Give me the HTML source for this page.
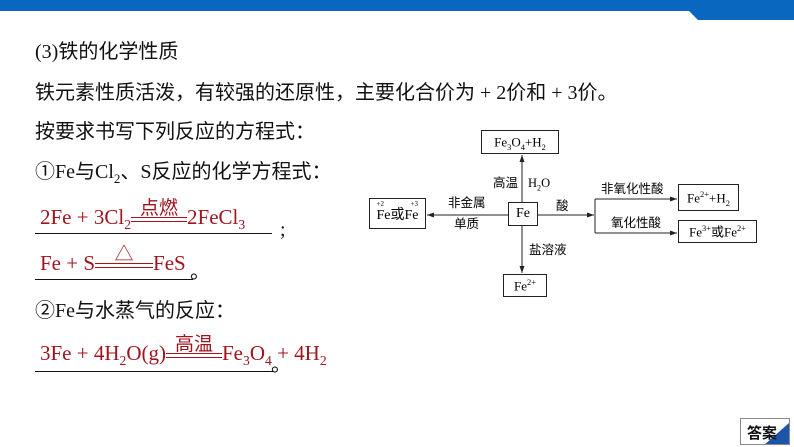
<!DOCTYPE html>
<html><head><meta charset="utf-8"><style>
body{margin:0;width:794px;height:447px;background:#fff;position:relative;overflow:hidden;font-family:"Liberation Serif","Noto Sans CJK SC",serif}
.t{position:absolute;white-space:nowrap;font-size:20px;color:#111;font-family:"Liberation Serif","Noto Sans CJK SC",sans-serif;line-height:1}
.r{color:#a0141e}
.u{position:absolute;height:1px;background:#111}
.b{position:absolute;border:1px solid #222;box-sizing:border-box;font-size:13px;text-align:center;white-space:nowrap;font-family:"Liberation Serif","Noto Sans CJK SC",serif;line-height:1}
.b > span{position:absolute;left:0;right:0;top:50%;transform:translateY(-50%)}
.l{position:absolute;font-size:12.5px;white-space:nowrap;font-family:"Liberation Serif","Noto Sans CJK SC",sans-serif;line-height:1}
sub,sup{font-size:65%;line-height:0}
.eq{display:inline-block;position:relative;border-top:1px solid #a0141e;border-bottom:1px solid #a0141e;height:3px;vertical-align:middle}
.eq span{position:absolute;left:0;right:0;text-align:center;bottom:5px;font-family:"Noto Sans CJK SC",sans-serif;font-size:19px}
</style></head><body>
<div style="position:absolute;left:0;top:0;width:794px;height:11px;background:#0a67c0"></div>
<svg style="position:absolute;left:0;top:0" width="794" height="24"><polygon points="688,10 698,20 794,20 794,10" fill="#0a67c0"/></svg>

<div class="t" style="left:35px;top:42px">(3)铁的化学性质</div>
<div class="t" style="left:35px;top:83px">铁元素性质活泼，有较强的还原性，主要化合价为 + 2价和 + 3价。</div>
<div class="t" style="left:35px;top:122px">按要求书写下列反应的方程式：</div>
<div class="t" style="left:35px;top:162px">①Fe与Cl<sub>2</sub>、S反应的化学方程式：</div>
<div class="t r" style="left:40px;top:207px;font-size:21px">2Fe + 3Cl<sub>2</sub><span class="eq" style="width:56px"><span>点燃</span></span>2FeCl<sub>3</sub></div>
<div class="u" style="left:35px;top:233px;width:237px"></div>
<div class="t" style="left:280px;top:220px">;</div>
<div class="t r" style="left:40px;top:253px;font-size:21px">Fe + S<span class="eq" style="width:58px"><span>△</span></span>FeS</div>
<div class="u" style="left:35px;top:279px;width:158px"></div>
<div class="t" style="left:190px;top:262px">。</div>
<div class="t" style="left:35px;top:301px">②Fe与水蒸气的反应：</div>
<div class="t r" style="left:40px;top:343px;font-size:21px">3Fe + 4H<sub>2</sub>O(g)<span class="eq" style="width:56px"><span>高温</span></span>Fe<sub>3</sub>O<sub>4</sub> + 4H<sub>2</sub></div>
<div class="u" style="left:35px;top:371px;width:238px"></div>
<div class="t" style="left:271px;top:355px">。</div>

<svg style="position:absolute;left:0;top:0" width="794" height="447">
<defs><marker id="a" markerWidth="8" markerHeight="6" refX="7" refY="3" orient="auto"><polygon points="0,0.5 7,3 0,5.5" fill="#222"/></marker></defs>
<g stroke="#222" stroke-width="1" fill="none">
<line x1="522" y1="202" x2="522" y2="155" marker-end="url(#a)"/>
<line x1="522" y1="226" x2="522" y2="273" marker-end="url(#a)"/>
<line x1="508" y1="215" x2="427" y2="215" marker-end="url(#a)"/>
<line x1="538" y1="215" x2="594" y2="215" marker-end="url(#a)"/>
<line x1="595" y1="199" x2="595" y2="233"/>
<line x1="595" y1="199" x2="677" y2="199" marker-end="url(#a)"/>
<line x1="595" y1="233" x2="677" y2="233" marker-end="url(#a)"/>
</g></svg>
<div class="b" style="left:481px;top:130px;width:78px;height:24px"><span>Fe<sub>3</sub>O<sub>4</sub>+H<sub>2</sub></span></div>
<div class="b" style="left:508px;top:202px;width:30px;height:24px;font-size:14px"><span>Fe</span></div>
<div class="b" style="left:369px;top:198px;width:57px;height:31px;font-size:14px"><span style="top:60%">
<span style="position:relative">Fe<span style="position:absolute;left:0;top:-7px;font-size:7px">+2</span></span>或<span style="position:relative">Fe<span style="position:absolute;left:6px;top:-7px;font-size:7px">+3</span></span></span></div>
<div class="b" style="left:503px;top:274px;width:44px;height:23px"><span>Fe<sup>2+</sup></span></div>
<div class="b" style="left:678px;top:184px;width:61px;height:27px"><span>Fe<sup>2+</sup>+H<sub>2</sub></span></div>
<div class="b" style="left:678px;top:220px;width:79px;height:23px"><span>Fe<sup>3+</sup>或Fe<sup>2+</sup></span></div>
<div class="l" style="left:493px;top:177px">高温</div>
<div class="l" style="left:528px;top:177px;font-family:'Liberation Serif',serif">H<sub>2</sub>O</div>
<div class="l" style="left:448px;top:197px">非金属</div>
<div class="l" style="left:454px;top:218px">单质</div>
<div class="l" style="left:556px;top:200px">酸</div>
<div class="l" style="left:529px;top:244px">盐溶液</div>
<div class="l" style="left:601px;top:183px">非氧化性酸</div>
<div class="l" style="left:611px;top:217px">氧化性酸</div>

<div style="position:absolute;left:740px;top:418px;width:50px;height:27px;border:1px solid #889;box-sizing:border-box;background:#fff;overflow:hidden">
<svg style="position:absolute;left:0;top:0" width="50" height="27"><polygon points="48,4 48,27 22,27" fill="#1a55a8"/></svg>
<div style="position:absolute;left:6px;top:3px;font:bold 15px 'Noto Sans CJK SC',sans-serif;color:#111">答案</div></div>
</body></html>
